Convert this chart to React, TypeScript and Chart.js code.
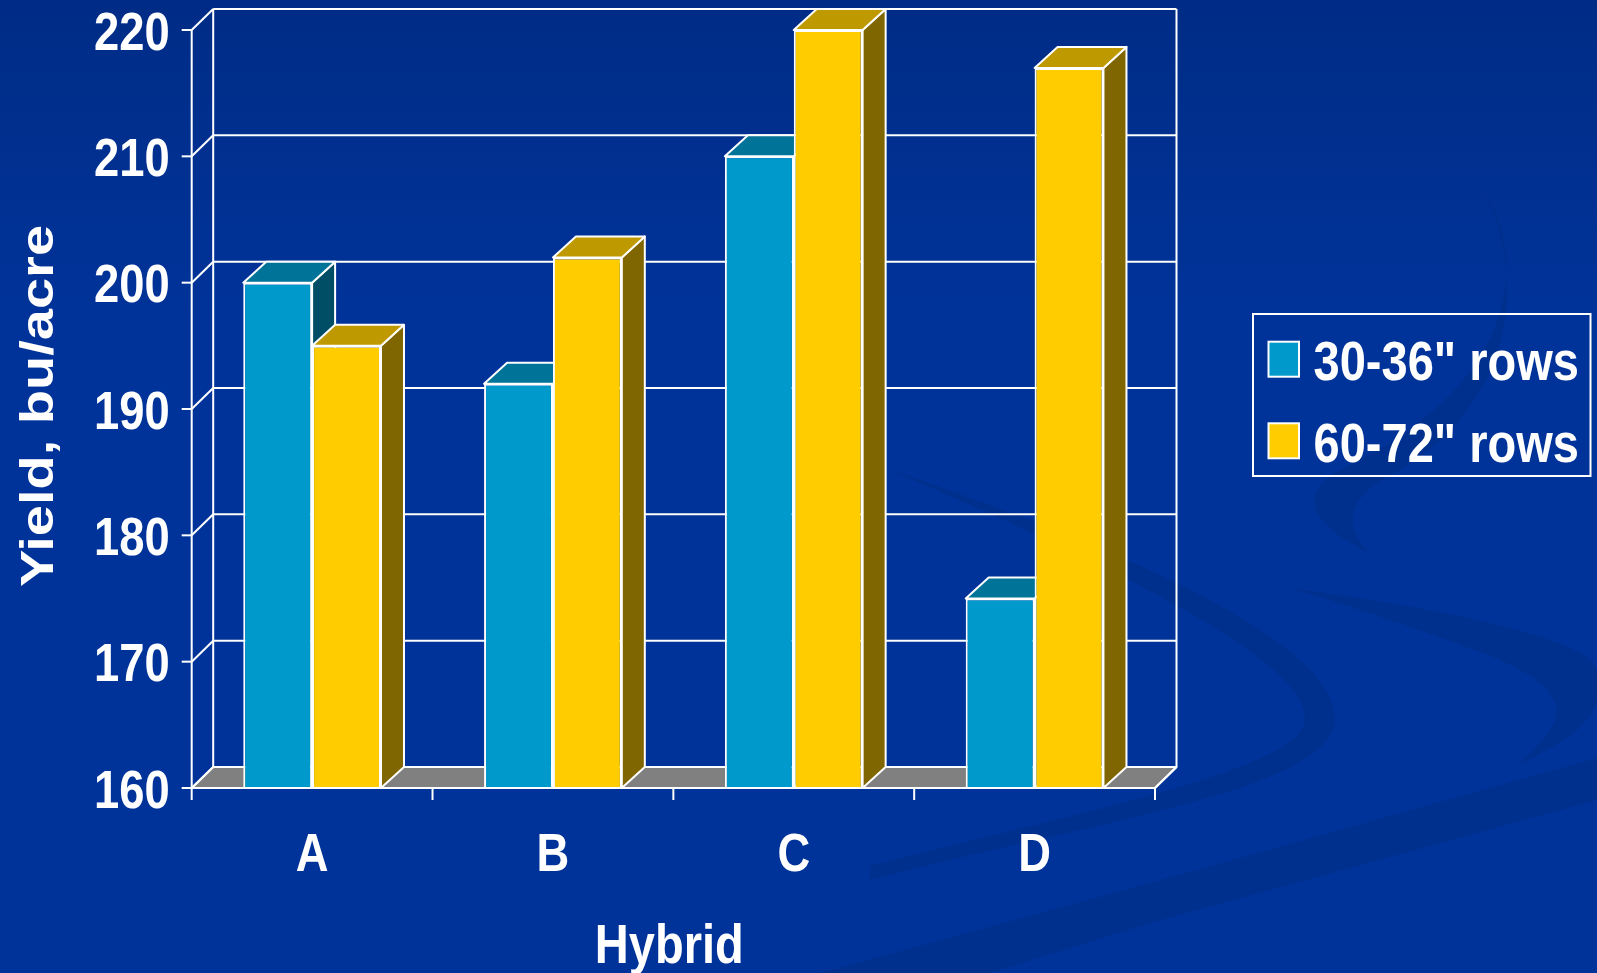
import React, { useEffect, useRef } from 'react';
import { Chart, registerables } from 'chart.js';

Chart.register(...registerables);

// ---------- data ----------
const categories = ['A', 'B', 'C', 'D'];
const rows30to36 = [200, 192, 210, 175];
const rows60to72 = [195, 202, 220, 217];
const seriesNames = ['30-36" rows', '60-72" rows'];
const yTicks = [160, 170, 180, 190, 200, 210, 220];
const yTitle = 'Yield, bu/acre';
const xTitle = 'Hybrid';

// ---------- styles ----------
const W = 1597;
const H = 973;
const FRONT = ['#0099CC', '#FFCC00'];
const TOP = ['#007399', '#BF9900'];
const SIDE = ['#004D66', '#806600'];
const FLOOR = '#808080';
const SX = 0.84; // horizontal text compression seen in the reference
const FONT = '"Liberation Sans", Arial, Helvetica, sans-serif';
const WALL_DX = 21.5;
const WALL_DY = 21;
const BAR_DX = 23;
const BAR_DY = 21;

function drawText(
  ctx: CanvasRenderingContext2D,
  s: string,
  x: number,
  y: number,
  size: number,
  align: CanvasTextAlign,
  rotate = false
) {
  ctx.save();
  ctx.translate(x, y);
  ctx.scale(SX, 1);
  if (rotate) ctx.rotate(-Math.PI / 2);
  ctx.font = `bold ${size}px ${FONT}`;
  ctx.textAlign = align;
  ctx.textBaseline = 'alphabetic';
  ctx.fillStyle = '#ffffff';
  ctx.fillText(s, 0, 0);
  ctx.restore();
}

function poly(ctx: CanvasRenderingContext2D, pts: number[][], fill: string) {
  ctx.beginPath();
  ctx.moveTo(pts[0][0], pts[0][1]);
  for (let i = 1; i < pts.length; i++) ctx.lineTo(pts[i][0], pts[i][1]);
  ctx.closePath();
  ctx.fillStyle = fill;
  ctx.fill();
  ctx.strokeStyle = '#ffffff';
  ctx.lineWidth = 2;
  ctx.lineJoin = 'round';
  ctx.stroke();
}

function line(ctx: CanvasRenderingContext2D, x1: number, y1: number, x2: number, y2: number) {
  ctx.beginPath();
  ctx.moveTo(x1, y1);
  ctx.lineTo(x2, y2);
  ctx.stroke();
}

const chart3d = {
  id: 'chart3d',
  beforeDraw(chart: any) {
    const ctx: CanvasRenderingContext2D = chart.ctx;
    ctx.save();
    const g = ctx.createLinearGradient(0, 0, 0, H);
    g.addColorStop(0, '#002c86');
    g.addColorStop(0.32, '#003399');
    g.addColorStop(1, '#003399');
    ctx.fillStyle = g;
    ctx.fillRect(0, 0, W, H);

    ctx.fillStyle = '#00308e';
    // long diagonal band, lower right
    ctx.beginPath();
    ctx.moveTo(820, 973);
    ctx.lineTo(1150, 883);
    ctx.lineTo(1597, 758);
    ctx.lineTo(1597, 800);
    ctx.lineTo(1150, 923);
    ctx.lineTo(990, 973);
    ctx.closePath();
    ctx.fill();
    // crescent 1
    ctx.beginPath();
    ctx.moveTo(890, 470);
    ctx.bezierCurveTo(1100, 540, 1340, 640, 1335, 720);
    ctx.bezierCurveTo(1330, 790, 1100, 820, 870, 880);
    ctx.lineTo(870, 866);
    ctx.bezierCurveTo(1080, 812, 1300, 770, 1305, 720);
    ctx.bezierCurveTo(1310, 660, 1100, 560, 890, 470);
    ctx.closePath();
    ctx.fill();
    // crescent 2
    ctx.beginPath();
    ctx.moveTo(1290, 588);
    ctx.bezierCurveTo(1450, 610, 1597, 640, 1597, 672);
    ctx.lineTo(1597, 700);
    ctx.bezierCurveTo(1590, 730, 1550, 750, 1517, 765);
    ctx.bezierCurveTo(1570, 720, 1580, 690, 1480, 652);
    ctx.bezierCurveTo(1400, 622, 1330, 600, 1290, 588);
    ctx.closePath();
    ctx.fill();
    // top arc
    ctx.beginPath();
    ctx.moveTo(1482, 188);
    ctx.bezierCurveTo(1525, 250, 1530, 380, 1340, 470);
    ctx.bezierCurveTo(1290, 495, 1320, 530, 1368, 552);
    ctx.bezierCurveTo(1340, 520, 1350, 495, 1400, 470);
    ctx.bezierCurveTo(1530, 390, 1520, 260, 1482, 188);
    ctx.closePath();
    ctx.fill();
    ctx.restore();
  },
  beforeDatasetsDraw(chart: any) {
    const ctx: CanvasRenderingContext2D = chart.ctx;
    const { left, right, top, bottom } = chart.chartArea;
    const yScale = chart.scales.y;
    ctx.save();
    ctx.strokeStyle = '#ffffff';
    ctx.lineWidth = 2;

    // floor
    poly(
      ctx,
      [
        [left, bottom],
        [right, bottom],
        [right + WALL_DX, bottom - WALL_DY],
        [left + WALL_DX, bottom - WALL_DY],
      ],
      FLOOR
    );

    ctx.strokeStyle = '#ffffff';
    ctx.lineWidth = 2;
    // back wall gridlines + side wall diagonals
    yScale.ticks.forEach((t: any) => {
      const y = yScale.getPixelForValue(t.value);
      line(ctx, left + WALL_DX, y - WALL_DY, right + WALL_DX, y - WALL_DY);
      line(ctx, left, y, left + WALL_DX, y - WALL_DY);
    });
    // wall verticals
    line(ctx, left + WALL_DX, top - WALL_DY, left + WALL_DX, bottom - WALL_DY);
    line(ctx, right + WALL_DX, top - WALL_DY, right + WALL_DX, bottom - WALL_DY);
    // floor right edge
    line(ctx, right, bottom, right + WALL_DX, bottom - WALL_DY);

    // bar sides and tops (painter's order: category by category, left to right)
    const basePx = yScale.getPixelForValue(yScale.min);
    const metas = [chart.getDatasetMeta(0), chart.getDatasetMeta(1)];
    for (let i = 0; i < categories.length; i++) {
      for (let d = 0; d < metas.length; d++) {
        const el = metas[d].data[i];
        const p = el.getProps(['x', 'y', 'width'], true);
        const l = p.x - p.width / 2;
        const r = p.x + p.width / 2;
        poly(
          ctx,
          [
            [r, p.y],
            [r + BAR_DX, p.y - BAR_DY],
            [r + BAR_DX, basePx - BAR_DY],
            [r, basePx],
          ],
          SIDE[d]
        );
        poly(
          ctx,
          [
            [l, p.y],
            [r, p.y],
            [r + BAR_DX, p.y - BAR_DY],
            [l + BAR_DX, p.y - BAR_DY],
          ],
          TOP[d]
        );
      }
    }
    ctx.restore();
  },
  afterDatasetsDraw(chart: any) {
    const ctx: CanvasRenderingContext2D = chart.ctx;
    const { left, right, top, bottom } = chart.chartArea;
    const yScale = chart.scales.y;
    ctx.save();
    ctx.strokeStyle = '#ffffff';
    ctx.lineWidth = 2;
    // front axes
    line(ctx, left, top, left, bottom + 12);
    line(ctx, left, bottom, right, bottom);
    // y ticks
    yScale.ticks.forEach((t: any) => {
      const y = yScale.getPixelForValue(t.value);
      line(ctx, left - 10, y, left, y);
    });
    // x ticks at category boundaries
    const slot = (right - left) / categories.length;
    for (let i = 1; i <= categories.length; i++) {
      const x = left + slot * i;
      line(ctx, x, bottom, x, bottom + 12);
    }
    ctx.restore();
  },
  afterDraw(chart: any) {
    const ctx: CanvasRenderingContext2D = chart.ctx;
    const { left, right } = chart.chartArea;
    const yScale = chart.scales.y;
    const xScale = chart.scales.x;
    // y tick labels
    yScale.ticks.forEach((t: any) => {
      const y = yScale.getPixelForValue(t.value);
      drawText(ctx, String(t.value), left - 22, y + 19.5, 54, 'right');
    });
    // category labels
    categories.forEach((c, i) => {
      drawText(ctx, c, xScale.getPixelForValue(i), 871, 54, 'center');
    });
    // axis titles
    drawText(ctx, xTitle, (left + right) / 2 - 4, 963, 56, 'center');
    drawText(ctx, yTitle, 53, 406, 56, 'center', true);

    // legend
    ctx.save();
    ctx.strokeStyle = '#ffffff';
    ctx.lineWidth = 2;
    ctx.strokeRect(1253, 314, 337.5, 162);
    const rowsY = [341.7, 423.3];
    const baseY = [380, 462];
    seriesNames.forEach((name, i) => {
      ctx.fillStyle = FRONT[i];
      ctx.fillRect(1268.5, rowsY[i], 30.5, 35);
      ctx.strokeStyle = '#ffffff';
      ctx.lineWidth = 2;
      ctx.strokeRect(1268.5, rowsY[i], 30.5, 35);
      drawText(ctx, name, 1313.5, baseY[i], 56, 'left');
    });
    ctx.restore();
  },
};

export default function App() {
  const ref = useRef<HTMLCanvasElement | null>(null);
  useEffect(() => {
    if (!ref.current) return;
    const chart = new Chart(ref.current, {
      type: 'bar',
      data: {
        labels: categories,
        datasets: [
          {
            label: seriesNames[0],
            data: rows30to36,
            base: yTicks[0],
            backgroundColor: FRONT[0],
            borderColor: '#ffffff',
            borderWidth: 2,
            categoryPercentage: 0.572,
            barPercentage: 1,
          },
          {
            label: seriesNames[1],
            data: rows60to72,
            base: yTicks[0],
            backgroundColor: FRONT[1],
            borderColor: '#ffffff',
            borderWidth: 2,
            categoryPercentage: 0.572,
            barPercentage: 1,
          },
        ],
      },
      options: {
        responsive: false,
        animation: false,
        events: [],
        layout: { padding: { left: 191.7, right: 442, top: 30, bottom: 185 } },
        plugins: {
          legend: { display: false },
          tooltip: { enabled: false },
          title: { display: false },
        },
        scales: {
          x: { display: false },
          y: {
            display: false,
            min: 160,
            max: 220,
            afterBuildTicks: (s: any) => {
              s.ticks = yTicks.map((v) => ({ value: v }));
            },
          },
        },
      },
      plugins: [chart3d],
    } as any);
    return () => chart.destroy();
  }, []);
  return (
    <div style={{ position: 'fixed', left: 0, top: 0, width: W, height: H }}>
      <canvas ref={ref} width={W} height={H} style={{ display: 'block', width: W, height: H }} />
    </div>
  );
}
